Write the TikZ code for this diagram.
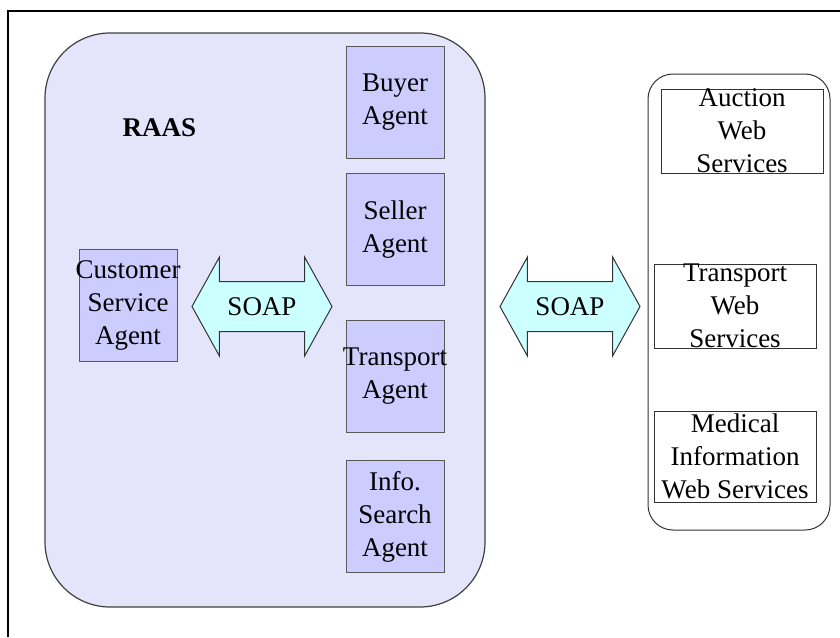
\documentclass[tikz,border=0pt]{standalone}
\usepackage{fontspec}
\setmainfont{Liberation Serif}
\usepackage{tikz}
\usetikzlibrary{positioning,shapes.arrows}

\definecolor{raasfill}{RGB}{228,228,250}
\definecolor{agentfill}{RGB}{204,204,255}
\definecolor{soapfill}{RGB}{204,255,255}

\begin{document}
\begin{tikzpicture}[x=1pt, y=-1pt,
        font=\fontsize{27}{33}\selectfont,
        raasnode/.style={draw=black!75, line width=1.2pt, fill=raasfill, rounded corners=65pt, minimum width=440pt, minimum height=574pt},
        agentnode/.style={draw=black!65, line width=1pt, outer sep=0pt, fill=agentfill, align=center, inner sep=0pt, minimum width=98pt, minimum height=112pt},
        soapnode/.style={double arrow, draw=black!80, line width=1pt, fill=soapfill, double arrow head extend=24.5pt, double arrow tip angle=122,
                minimum height=140pt, minimum width=0pt, text height=18pt, text depth=0pt, inner xsep=4pt, inner ysep=15.5pt},
        servicesnode/.style={draw=black!80, line width=1pt, rounded corners=25pt, minimum width=182pt, minimum height=456pt},
        webnode/.style={draw=black!80, line width=1pt, fill=white, align=center, inner sep=0pt, minimum width=162pt, minimum height=84pt},
]
        \useasboundingbox (0,0) rectangle (840,637);
        \draw[line width=2pt] (8,637) -- (8,11) -- (840,11);

        \node[raasnode] (raas) at (265,320) {};
        \node[inner sep=0pt] (raaslabel) at (159.5,127.5) {\bfseries RAAS};

        \node[agentnode] (buyer) at (395,102.5) {Buyer\\Agent};
        \node[agentnode] (seller) [below=15pt of buyer] {Seller\\Agent};
        \node[agentnode, inner xsep=-5pt] (transport) [below=35pt of seller] {Transport\\Agent};
        \node[agentnode] (search) [below=28pt of transport] {Info.\\Search\\Agent};
        \node[agentnode, inner xsep=-5pt] (customer) at (128,305.5) {Customer\\Service\\Agent};

        \node[soapnode] (soapin) at (262,306.5) {SOAP};
        \node[soapnode] (soapout) at (570,306.5) {SOAP};

        \node[servicesnode] (services) at (739,302) {};
        \node[webnode, inner ysep=-8pt] (auction) at (742,131) {Auction\\Web\\Services};
        \node[webnode, inner ysep=-8pt] (transportws) at (735,306) {Transport\\Web\\Services};
        \node[webnode, minimum height=91pt] (medical) at (735,456.5) {Medical\\Information\\Web Services};
\end{tikzpicture}
\end{document}
